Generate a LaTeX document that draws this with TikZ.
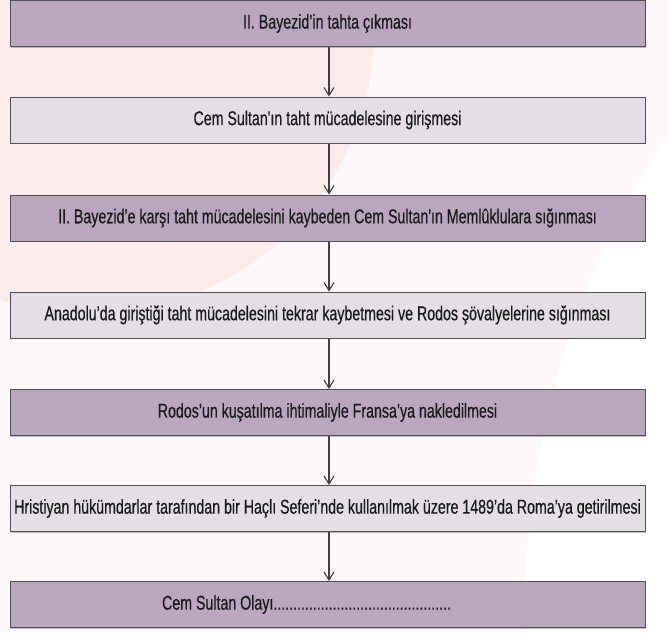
\documentclass[tikz,border=0pt]{standalone}
\usepackage{fontspec}
\setmainfont{Liberation Sans}[FakeStretch=0.71,FakeBold=0.4,Ligatures=TeXOff]
\usetikzlibrary{arrows.meta,shadows}
\definecolor{boxpurple}{RGB}{186,166,190}
\definecolor{boxgray}{RGB}{227,223,229}
\definecolor{markpink}{RGB}{253,234,236}
\definecolor{markwhite}{RGB}{252,248,250}
\definecolor{edgegray}{RGB}{80,80,80}
\begin{document}
\begin{tikzpicture}[x=1pt,y=-1pt,
  event/.style={draw=edgegray,line width=1pt,minimum width=635pt,minimum height=46pt,
    inner sep=0pt,font=\fontsize{20}{24}\selectfont,text=black!90,
    drop shadow={shadow xshift=0.6pt,shadow yshift=-1.1pt,fill=black!50}},
  dark/.style={event,fill=boxpurple},
  light/.style={event,fill=boxgray},
  flow/.style={draw=black!75,line width=1.1pt,-{Straight Barb[length=8pt,width=10pt]}}]
\useasboundingbox (0,0) rectangle (668,633);
% Faint watermark behind the chart
\begin{scope}
\clip (0,0) rectangle (668,633);
\fill[markwhite] (0,0) rectangle (668,633);
\fill[white] (1387,611) circle [radius=862];
\fill[markpink] (90,30) circle [radius=284];
\end{scope}
% Events
\node[dark] (tahta) at (327.5,23.5) {II. Bayezid’in tahta çıkması};
\node[light] (girisme) at (327.5,120) {Cem Sultan'ın taht mücadelesine girişmesi};
\node[dark] (memluk) at (327.5,218) {II. Bayezid’e karşı taht mücadelesini kaybeden Cem Sultan'ın Memlûklulara sığınması};
\node[light] (rodos) at (327.5,315) {Anadolu’da giriştiği taht mücadelesini tekrar kaybetmesi ve Rodos şövalyelerine sığınması};
\node[dark] (fransa) at (327.5,412.5) {Rodos’un kuşatılma ihtimaliyle Fransa’ya nakledilmesi};
\node[light] (roma) at (327.5,508.5) {Hristiyan hükümdarlar tarafından bir Haçlı Seferi’nde kullanılmak üzere 1489’da Roma’ya getirilmesi};
\node[dark] (olay) at (327.5,604.5) {Cem Sultan Olayı.............................................\hspace*{42pt}};
% Arrows between events
\foreach \a/\b in {tahta/girisme,girisme/memluk,memluk/rodos,rodos/fransa,fransa/roma,roma/olay}
  \draw[flow] ([xshift=1.5pt]\a.south) -- ([xshift=1.5pt]\b.north);
\end{tikzpicture}
\end{document}
